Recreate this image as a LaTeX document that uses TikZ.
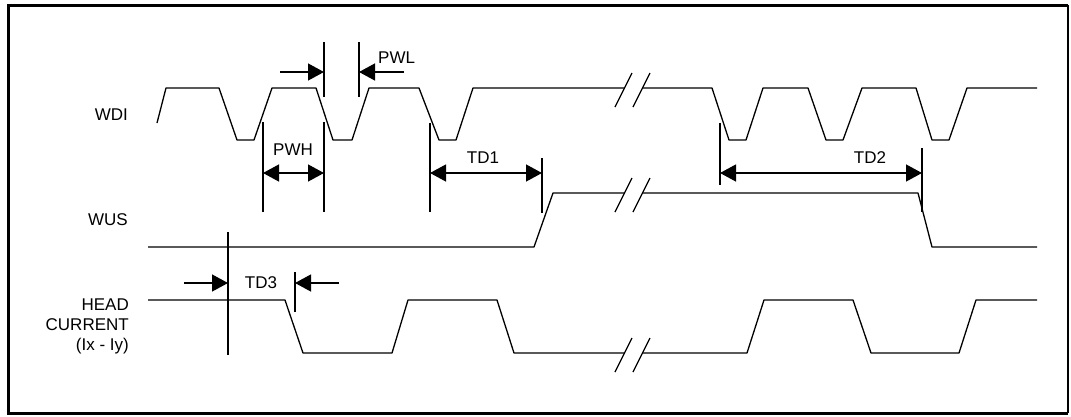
\documentclass[tikz,border=0pt]{standalone}
\usepackage{fontspec}
\setmainfont{Liberation Sans}
\usetikzlibrary{arrows.meta}

\tikzset{
	sig/.style={line width=1.3pt, line join=round},
	guide/.style={line width=1.3pt},
	dim/.style={line width=1.3pt, >={Triangle[length=16pt,width=17pt]}},
	lbl/.style={inner sep=0pt, font=\fontsize{17}{20}\selectfont},
}

\begin{document}
\begin{tikzpicture}[x=1pt,y=-1pt]
	\useasboundingbox (0,0) rectangle (1071,416);
	\draw [line width=3pt](1068,5) -- (8,5) -- (8,413) -- (1068,413);
	\draw [line width=1.5pt](1068,5) -- (1068,413);

	% signal names
	\node [lbl,anchor=east] (wdi) at (128,115) {WDI};
	\node [lbl,anchor=east] (wus) at (128,220) {WUS};
	\node [lbl,anchor=east,align=right] (head) at (129,326) {HEAD\\CURRENT\\(Ix - Iy)};

	% waveforms
	\draw [sig](157,123) -- (166,88) -- (219,88) -- (237,140) -- (254,140) -- (272,88) -- (316,88) -- (333,140) -- (352,140) -- (369,88) -- (419,88) -- (439,140) -- (456,140) -- (473,88) -- (624,88);
	\draw [sig](642,88) -- (712,88) -- (729,140) -- (746,140) -- (763,88) -- (808,88) -- (826,140) -- (843,140) -- (862,88) -- (916,88) -- (932,140) -- (949,140) -- (967,88) -- (1037,88);
	\draw [sig](148,247) -- (534,247) -- (553,193) -- (624,193);
	\draw [sig](642,193) -- (918,193) -- (932,247) -- (1037,247);
	\draw [sig](148,300) -- (285,300) -- (303,353) -- (392,353) -- (408,300) -- (497,300) -- (514,353) -- (624,353);
	\draw [sig](642,353) -- (747,353) -- (764,300) -- (853,300) -- (871,353) -- (959,353) -- (976,300) -- (1037,300);
	\foreach \y in {90,195,355}{
		\draw [sig](615,\y+17) -- (632,\y-17);
		\draw [sig](633,\y+17) -- (650,\y-17);
	}

	% PWL
	\draw [guide](324,42) -- (324,97);
	\draw [guide](359,42) -- (359,97);
	\coordinate (pwlA) at (324,72);
	\coordinate (pwlB) at (359,72);
	\draw [dim,->](280,72) -- (pwlA);
	\draw [dim,->](404,72) -- (pwlB);
	\node [lbl,anchor=west] (pwl) at (378,58) {PWL};

	% PWH
	\draw [guide](263,122) -- (263,212);
	\draw [guide](324,122) -- (324,212);
	\coordinate (pwhA) at (263,173);
	\coordinate (pwhB) at (324,173);
	\draw [dim,<->](pwhA) -- (pwhB);
	\node [lbl] (pwh) at (293,150) {PWH};

	% TD1
	\draw [guide](430,123) -- (430,212);
	\draw [guide](542,158) -- (542,213);
	\coordinate (tdoneA) at (430,173);
	\coordinate (tdoneB) at (542,173);
	\draw [dim,<->](tdoneA) -- (tdoneB);
	\node [lbl] (tdone) at (483,158) {TD1};

	% TD2
	\draw [guide](720,123) -- (720,185);
	\draw [guide](922,148) -- (922,212);
	\coordinate (tdtwoA) at (720,173);
	\coordinate (tdtwoB) at (922,173);
	\draw [dim,<->](tdtwoA) -- (tdtwoB);
	\node [lbl] (tdtwo) at (870,158) {TD2};

	% TD3
	\draw [guide](228,232) -- (228,355);
	\draw [guide](295,272) -- (295,312);
	\coordinate (tdthreeA) at (228,283);
	\coordinate (tdthreeB) at (295,283);
	\draw [dim,->](184,283) -- (tdthreeA);
	\draw [dim,->](339,283) -- (tdthreeB);
	\node [lbl] (tdthree) at (261,283) {TD3};
\end{tikzpicture}
\end{document}
